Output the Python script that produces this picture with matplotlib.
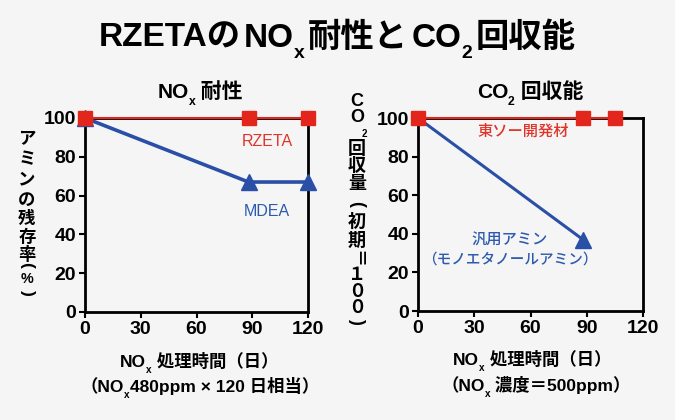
import matplotlib
matplotlib.use('Agg')
import matplotlib.pyplot as plt

plt.rcParams['font.family'] = ['Liberation Sans', 'Noto Sans CJK JP']
plt.rcParams['font.weight'] = 'bold'

W, H = 675, 420
BG = '#f5f5f5'
RED = '#e3261c'
BLUE = '#2a4fa6'
RED_TXT = '#e0342a'
BLUE_TXT = '#2d5aae'

# ---- data ----
day_ticks = [0, 30, 60, 90, 120]
pct_ticks = [0, 20, 40, 60, 80, 100]

rzeta_days = [0, 88, 120]
rzeta_vals = [100, 100, 100]
mdea_days = [0, 88, 120]
mdea_vals = [100, 67, 67]

tosoh_days = [0, 88, 105]
tosoh_vals = [100, 100, 100]
mea_days = [0, 88]
mea_vals = [100, 37]

fig = plt.figure(figsize=(W / 100, H / 100), dpi=100, facecolor=BG)
rend = fig.canvas.get_renderer()


def fx(px):
    return px / W


def fy(py):
    return 1 - py / H


def rich(parts, cx, base, size, color='black', weight='bold'):
    """parts: (text, is_sub, gap_px) laid out left to right, centred on cx (pixels)"""
    items = []
    total = 0
    for txt, sub, gap in parts:
        fs = size * 0.58 if sub else size
        t = fig.text(0, 0, txt, fontsize=fs, fontweight=weight, color=color,
                     ha='left', va='baseline')
        w = t.get_window_extent(rend).width
        items.append((t, sub, gap, w))
        total += gap + w
    x = cx - total / 2
    for t, sub, gap, w in items:
        x += gap
        drop = size * 100 / 72 * 0.32 if sub else 0
        t.set_position((fx(x), fy(base + drop)))
        x += w


def vstack(chars, cx, ys, size, rot=(), small=(), weight='bold'):
    # vertical (tate-gaki) label, one glyph per text
    for i, (ch, y) in enumerate(zip(chars, ys)):
        fig.text(fx(cx), fy(y), ch, fontsize=size * 0.82 if i in small else size,
                 fontweight=weight, ha='center', va='center',
                 rotation=-90 if i in rot else 0, rotation_mode='anchor')


def style_axes(ax):
    ax.set_facecolor(BG)
    ax.set_xlim(0, 120)
    ax.set_ylim(0, 100)
    ax.set_xticks(day_ticks)
    ax.set_yticks(pct_ticks)
    for s in ax.spines.values():
        s.set_linewidth(2)
        s.set_color('black')
    ax.tick_params(direction='out', length=4, width=1.5, labelsize=14, pad=2.5)
    for lb in ax.get_xticklabels() + ax.get_yticklabels():
        lb.set_fontweight('bold')


# ---- left panel: NOx tolerance ----
ax1 = fig.add_axes([85 / W, 1 - 312 / H, 223 / W, 194 / H])
style_axes(ax1)
ax1.plot(mdea_days, mdea_vals, color=BLUE, lw=2.6, marker='^', ms=11.5,
         clip_on=False, zorder=3)
ax1.plot(rzeta_days, rzeta_vals, color=RED, lw=1.5, marker='s', ms=10.5,
         clip_on=False, zorder=4)
ax1.text(98, 88, 'RZETA', color=RED_TXT, fontsize=11.5, fontweight='normal',
         ha='center', va='center')
ax1.text(98, 52, 'MDEA', color=BLUE_TXT, fontsize=11.5, fontweight='normal',
         ha='center', va='center')

# ---- right panel: CO2 capture ----
ax2 = fig.add_axes([418 / W, 1 - 311 / H, 225 / W, 193 / H])
style_axes(ax2)
ax2.plot(mea_days, mea_vals, color=BLUE, lw=2.2, marker='^', ms=11.5,
         markevery=[1], clip_on=False, zorder=3)
ax2.plot(tosoh_days, tosoh_vals, color=RED, lw=1.5, marker='s', ms=10.5,
         clip_on=False, zorder=4)
ax2.text(56, 93, '東ソー開発材', color=RED_TXT, fontsize=11, fontweight='medium',
         ha='center', va='center')
ax2.text(49, 36.5, '汎用アミン', color=BLUE_TXT, fontsize=11, fontweight='medium',
         ha='center', va='center')
ax2.text(49, 26.5, '（モノエタノールアミン）', color=BLUE_TXT, fontsize=10.5,
         fontweight='medium', ha='center', va='center')

# ---- titles ----
rich([('RZETAの', False, 0), ('NO', False, 3), ('x', True, 0),
      ('耐性と', False, 3), ('CO', False, 4), ('2', True, 0), ('回収能', False, 3)],
     337, 47, 24)
rich([('NO', False, 0), ('x', True, 0), (' 耐性', False, 0)], 200, 98, 15)
rich([('CO', False, 0), ('2', True, 0), (' 回収能', False, 0)], 530, 98, 15)

# ---- x labels ----
rich([('NO', False, 0), ('x', True, 0), (' 処理時間（日）', False, 0)],
     199, 367, 12.5)
rich([('（NO', False, 0), ('x', True, 0), ('480ppm × 120 日相当）', False, 0)],
     200, 392, 12.5)
rich([('NO', False, 0), ('x', True, 0), (' 処理時間（日）', False, 0)],
     532, 365, 12.5)
rich([('（NO', False, 0), ('x', True, 0), (' 濃度＝500ppm）', False, 0)],
     536, 391, 12.5)

# ---- vertical y labels ----
vstack(['ア', 'ミ', 'ン', 'の', '残', '存', '率', '(', '%', ')'], 27,
       [140, 160, 180, 200, 219, 237, 254, 265, 279, 293], 12.5,
       rot=(7, 9), small=(8,))
vstack(['C', 'O'], 357, [102, 118], 13)
fig.text(fx(364), fy(134), '2', fontsize=7, fontweight='bold', ha='center', va='center')
vstack(['回', '収', '量', '(', '初', '期', '＝', '１', '０', '０', ')'], 357,
       [149, 167, 185, 204, 222, 241, 259, 276, 292, 308, 321], 13,
       rot=(3, 6, 10))

fig.savefig('out.png', dpi=100, facecolor=BG)
